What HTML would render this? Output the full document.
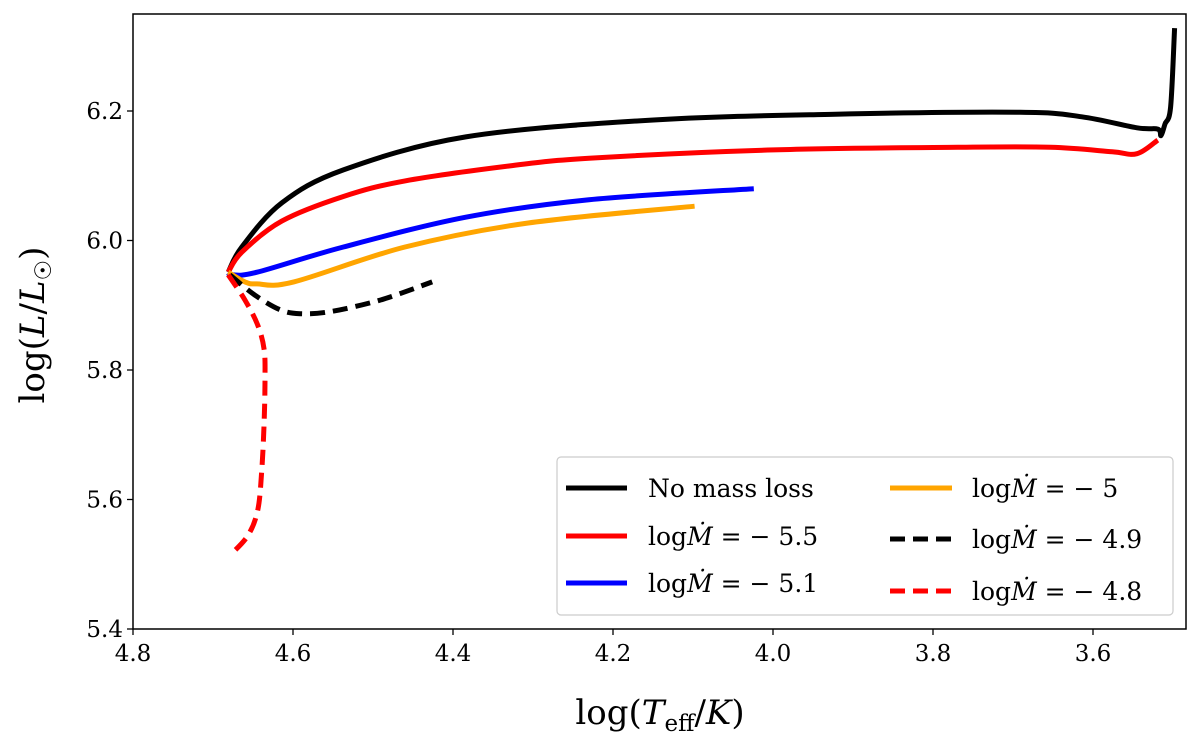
<!DOCTYPE html>
<html><head><meta charset="utf-8"><style>
body{margin:0;background:#fff}
svg text{font-family:"DejaVu Serif","Liberation Serif",serif;fill:#000}
</style></head><body>
<svg id="c" width="1200" height="746" xmlns="http://www.w3.org/2000/svg"></svg>
<script>
const xTicks=[4.8,4.6,4.4,4.2,4.0,3.8,3.6];
const yTicks=[5.4,5.6,5.8,6.0,6.2];
const seriesNames=["No mass loss","logM=-5.5","logM=-5.1","logM=-5","logM=-4.9","logM=-4.8"];
const noLossX=[4.681,4.664,4.614,4.537,4.384,4.152,3.922,3.691,3.614,3.545,3.519,3.515,3.510,3.503,3.498];
const noLossY=[5.951,5.990,6.058,6.109,6.160,6.186,6.195,6.198,6.191,6.174,6.172,6.162,6.180,6.206,6.328];
const m55X=[4.681,4.664,4.614,4.537,4.460,4.330,4.230,3.999,3.769,3.653,3.576,3.545,3.519];
const m55Y=[5.951,5.982,6.030,6.068,6.092,6.115,6.127,6.140,6.144,6.144,6.137,6.134,6.155];
const m51X=[4.681,4.676,4.645,4.537,4.384,4.230,4.024];
const m51Y=[5.951,5.947,5.951,5.990,6.036,6.063,6.080];
const m50X=[4.681,4.660,4.645,4.599,4.460,4.306,4.098];
const m50Y=[5.951,5.936,5.933,5.936,5.990,6.027,6.053];
const m49X=[4.679,4.648,4.616,4.591,4.554,4.491,4.426];
const m49Y=[5.947,5.916,5.893,5.887,5.890,5.908,5.936];
const m48X=[4.681,4.660,4.644,4.636,4.635,4.636,4.639,4.644,4.656,4.676];
const m48Y=[5.947,5.908,5.869,5.831,5.785,5.723,5.646,5.584,5.545,5.517];

const L=133,R=1186,T=14,B=629;
const sx=v=>L+(4.8-v)*800;
const sy=v=>B-(v-5.4)*647.5;
const svg=document.getElementById('c');
const NS="http://www.w3.org/2000/svg";
function mk(tag,attrs,parent){const e=document.createElementNS(NS,tag);for(const k in attrs)e.setAttribute(k,attrs[k]);(parent||svg).appendChild(e);return e;}
function smooth(pts){
 let d="M"+pts[0][0].toFixed(1)+","+pts[0][1].toFixed(1);
 for(let i=0;i<pts.length-1;i++){
  const p0=pts[i-1]||pts[i],p1=pts[i],p2=pts[i+1],p3=pts[i+2]||p2;
  const c1=[p1[0]+(p2[0]-p0[0])/6,p1[1]+(p2[1]-p0[1])/6];
  const c2=[p2[0]-(p3[0]-p1[0])/6,p2[1]-(p3[1]-p1[1])/6];
  d+=" C"+c1.map(v=>v.toFixed(1))+" "+c2.map(v=>v.toFixed(1))+" "+p2.map(v=>v.toFixed(1));
 }
 return d;
}

const series=[
 [noLossX,noLossY,"#000",null,"series-no-mass-loss"],
 [m55X,m55Y,"#f00",null,"series-mdot-5-5"],
 [m51X,m51Y,"#00f",null,"series-mdot-5-1"],
 [m50X,m50Y,"#ffa500",null,"series-mdot-5"],
 [m49X,m49Y,"#000","15 8","series-mdot-4-9"],
 [m48X,m48Y,"#f00","15 8","series-mdot-4-8"]];
series.forEach(s=>{
 const pts=s[0].map((v,i)=>[sx(v),sy(s[1][i])]);
 const p=mk('path',{d:smooth(pts),fill:"none",stroke:s[2],"stroke-width":5,"stroke-linejoin":"round"});
 if(s[3])p.setAttribute('stroke-dasharray',s[3]);
 
 
});

const frame=mk('rect',{x:L,y:T,width:R-L,height:B-T,fill:"none",stroke:"#000","stroke-width":1.5});



xTicks.forEach(v=>{
 const x=sx(v);
 mk('line',{x1:x,x2:x,y1:B,y2:B+6,stroke:"#000","stroke-width":1.3});
 const t=mk('text',{x:x,y:B+32,"text-anchor":"middle","font-size":23});
 t.textContent=v.toFixed(1);
 
 
});
yTicks.forEach(v=>{
 const y=sy(v);
 mk('line',{x1:L-6,x2:L,y1:y,y2:y,stroke:"#000","stroke-width":1.3});
 const t=mk('text',{x:L-10,y:y+8,"text-anchor":"end","font-size":23});
 t.textContent=v.toFixed(1);
 
 
});
</script>
<svg width="1200" height="746" style="position:absolute;left:0;top:0" xmlns="http://www.w3.org/2000/svg">
<text x="660" y="724" text-anchor="middle" font-size="34">log(<tspan font-style="italic">T</tspan><tspan font-size="23" dy="7">eff</tspan><tspan dy="-7">/</tspan><tspan font-style="italic">K</tspan>)</text>
<text transform="translate(44,325) rotate(-90)" text-anchor="middle" font-size="34">log(<tspan font-style="italic">L</tspan>/<tspan font-style="italic">L</tspan><tspan font-size="23" dy="7">☉</tspan><tspan dy="-7">)</tspan></text>
<g>
<rect x="557" y="457" width="616" height="158" rx="4" fill="#fff" stroke="#ccc" stroke-width="1.2"/>
<g font-size="25">
<line x1="566" x2="627" y1="488" y2="488" stroke="#000" stroke-width="5"/>
<text x="648" y="497">No mass loss</text>
<line x1="566" x2="627" y1="536" y2="536" stroke="#f00" stroke-width="5"/>
<text x="648" y="545">log<tspan font-style="italic">Ṁ</tspan> = − 5.5</text>
<line x1="566" x2="627" y1="583" y2="583" stroke="#00f" stroke-width="5"/>
<text x="648" y="592">log<tspan font-style="italic">Ṁ</tspan> = − 5.1</text>
<line x1="890" x2="952" y1="488" y2="488" stroke="#ffa500" stroke-width="5"/>
<text x="972" y="497">log<tspan font-style="italic">Ṁ</tspan> = − 5</text>
<line x1="890" x2="952" y1="539" y2="539" stroke="#000" stroke-width="5" stroke-dasharray="15 8"/>
<text x="972" y="548">log<tspan font-style="italic">Ṁ</tspan> = − 4.9</text>
<line x1="890" x2="952" y1="591" y2="591" stroke="#f00" stroke-width="5" stroke-dasharray="15 8"/>
<text x="972" y="600">log<tspan font-style="italic">Ṁ</tspan> = − 4.8</text>
</g></g>
</svg>
</body></html>
